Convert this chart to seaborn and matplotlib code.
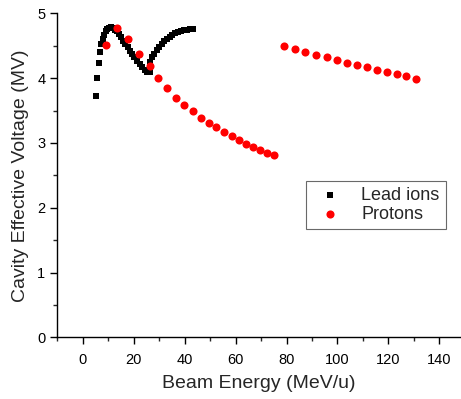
import matplotlib
matplotlib.use("Agg")
from matplotlib import pyplot as plt
from matplotlib.ticker import MultipleLocator
import pandas as pd
import seaborn as sns

# Lead ions (black squares)
lead_energy = [5.3, 5.7, 6.3, 6.8, 7.3, 7.8, 8.4, 9.0, 9.7, 10.4, 11.1, 11.8, 12.6,
               13.3, 14.1, 15.0, 15.8, 16.7, 17.6, 18.5, 19.4, 20.3, 21.3, 22.3,
               23.3, 24.3, 25.3, 26.2,
               26.5, 27.3, 28.1, 29.0, 30.0, 31.0, 32.0, 33.0, 34.1, 35.2, 36.3,
               37.4, 38.6, 39.8, 41.0, 42.2, 43.4]
lead_voltage = [3.72, 4.00, 4.24, 4.41, 4.52, 4.60, 4.67, 4.72, 4.76, 4.78, 4.79, 4.78, 4.75,
                4.72, 4.68, 4.63, 4.58, 4.53, 4.48, 4.42, 4.37, 4.32, 4.27, 4.22,
                4.17, 4.13, 4.10, 4.09,
                4.25, 4.32, 4.38, 4.43, 4.48, 4.53, 4.57, 4.60, 4.63, 4.66, 4.69,
                4.71, 4.73, 4.74, 4.75, 4.76, 4.76]

# Protons (red circles)
proton_energy = [9.0, 13.6, 17.7, 21.9, 26.2, 29.6, 33.0, 36.6, 39.8, 43.3, 46.5,
                 49.5, 52.5, 55.6, 58.4, 61.3, 64.2, 66.9, 69.7, 72.4, 74.9,
                 79.2, 83.2, 87.4, 91.5, 95.7, 99.7, 103.8, 107.7, 111.5, 115.5,
                 119.3, 123.2, 126.9, 130.7]
proton_voltage = [4.51, 4.78, 4.60, 4.38, 4.18, 4.00, 3.84, 3.70, 3.58, 3.49, 3.39,
                  3.31, 3.24, 3.17, 3.11, 3.04, 2.99, 2.94, 2.89, 2.85, 2.81,
                  4.50, 4.45, 4.41, 4.36, 4.32, 4.28, 4.24, 4.20, 4.17, 4.13,
                  4.10, 4.06, 4.03, 3.99]

lead_df = pd.DataFrame({"energy": lead_energy, "voltage": lead_voltage})
proton_df = pd.DataFrame({"energy": proton_energy, "voltage": proton_voltage})

sns.set_style("ticks")
plt.rcParams["font.family"] = ["Liberation Sans", "DejaVu Sans"]

fig = plt.figure(figsize=(4.61, 3.99), dpi=100)
ax = fig.add_axes([0.1243, 0.1546, 0.8757, 0.812])

sns.scatterplot(data=lead_df, x="energy", y="voltage", marker="s", s=24,
                color="black", linewidth=0, label="Lead ions", ax=ax)
sns.scatterplot(data=proton_df, x="energy", y="voltage", marker="o", s=34,
                color="red", linewidth=0, label="Protons", ax=ax)

ax.set_xlim(-10, 148.5)
ax.set_ylim(0, 5)
ax.xaxis.set_major_locator(MultipleLocator(20))
ax.xaxis.set_minor_locator(MultipleLocator(10))
ax.yaxis.set_major_locator(MultipleLocator(1))
ax.yaxis.set_minor_locator(MultipleLocator(0.5))
ax.tick_params(which="major", length=5, width=1, labelsize=10.5, colors="black")
ax.tick_params(axis="x", which="major", pad=6)
ax.tick_params(which="minor", length=3, width=1)

for side in ["top", "right"]:
    ax.spines[side].set_visible(False)
for side in ["left", "bottom"]:
    ax.spines[side].set_color("black")
    ax.spines[side].set_linewidth(1)

ax.set_xlabel("Beam Energy (MeV/u)", fontsize=14, labelpad=6)
ax.set_ylabel("Cavity Effective Voltage (MV)", fontsize=14, labelpad=6)

leg = ax.legend(loc="upper left", bbox_to_anchor=(0.616, 0.484), fontsize=13,
                frameon=True, fancybox=False, borderpad=0.35, handletextpad=0.7,
                labelspacing=0.1, handlelength=2.0, borderaxespad=0,
                markerscale=1.0)
leg.get_frame().set_edgecolor("#444444")
leg.get_frame().set_linewidth(0.8)

fig.savefig("out.png", dpi=100)
